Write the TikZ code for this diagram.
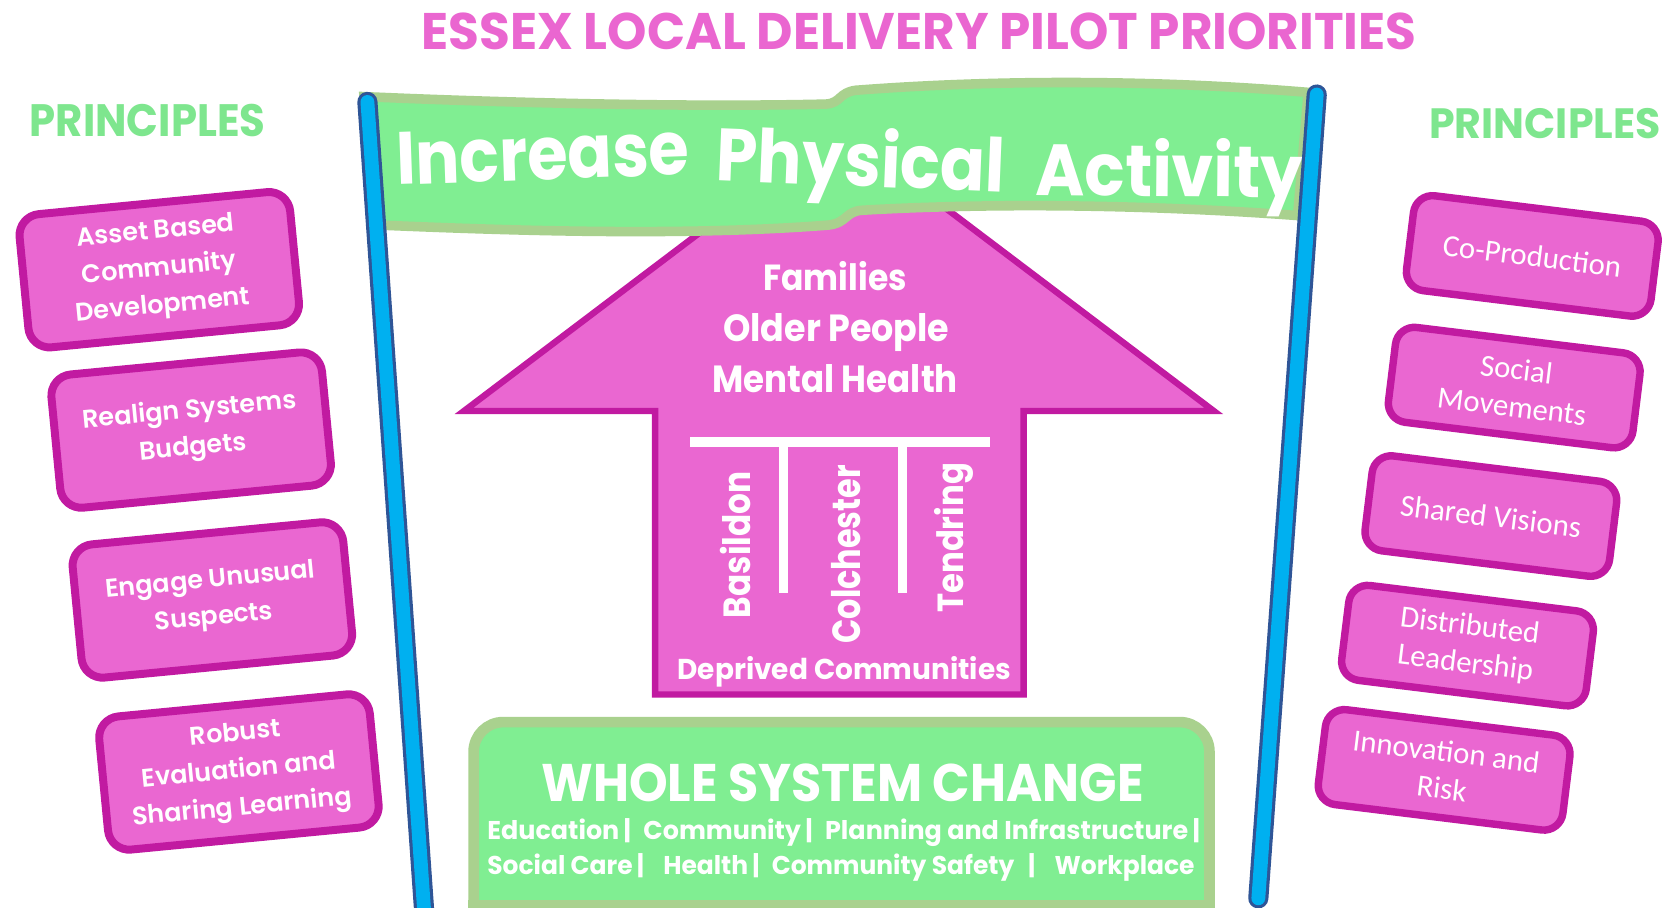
\documentclass[tikz,border=0pt]{standalone}
\usepackage{fontspec}
\setmainfont{Poppins}
\newfontfamily\geo{Poppins}
\newfontfamily\geosb{Poppins SemiBold}
\newfontfamily\calfont{Carlito}
\usepackage{graphicx}
\definecolor{pinkF}{HTML}{EA67D1}
\definecolor{magB}{HTML}{C11AA1}
\definecolor{greenF}{HTML}{80EE92}
\definecolor{sage}{HTML}{A9D18E}
\definecolor{pcyan}{HTML}{00B0F0}
\definecolor{pdark}{HTML}{2F5597}
\definecolor{titlepink}{HTML}{EA66D0}
\definecolor{prgreen}{HTML}{7EE68E}
% fit text to width #1 and cap height #2 (in pt), font #3, text #4
\newcommand\fitc[4]{{#3\setbox0\hbox{H}\setbox2\hbox{#4}%
  \pgfmathsetmacro\fsx{#1/\the\wd2}\pgfmathsetmacro\fsy{#2/\the\ht0}%
  \scalebox{\fsx}[\fsy]{\box2}}}
\newcommand\tw{\geo\bfseries\fontsize{40}{40}\selectfont}
\begin{document}
\begin{tikzpicture}[x=1pt,y=-1pt,
  txt/.style={anchor=base west, inner sep=0pt, outer sep=0pt, text=white},
  lbox/.style={draw=magB, fill=pinkF, line width=7.5pt, rounded corners=20pt,
    minimum width=256pt, minimum height=126pt, align=center, text=white,
    inner sep=0pt, font=\geosb\fontsize{24}{35}\selectfont, rotate=5.5},
  rbox/.style={draw=magB, fill=pinkF, line width=7pt, rounded corners=18pt,
    minimum width=232pt, minimum height=90pt, align=center, text=white,
    inner sep=0pt, font=\calfont\fontsize{29}{35}\selectfont, rotate=-7},
  arrowshape/.style={draw=magB, fill=pinkF, line width=6pt, line join=miter},
  bannershape/.style={draw=sage, fill=greenF, line width=9pt},
  wscshape/.style={draw=sage, fill=greenF, line width=10pt, rounded corners=28pt},
  poleout/.style={draw=pdark, line width=19pt, line cap=round},
  polein/.style={draw=pcyan, line width=13pt, line cap=round},
  tline/.style={draw=white, line width=9pt}]
\clip (0,0) rectangle (1568,855);
\fill[white] (0,0) rectangle (1568,855);

% title and headings
\node[txt, text=titlepink] (title) at (397,46.5) {\fitc{937}{34}{\tw}{ESSEX LOCAL DELIVERY PILOT PRIORITIES}};
\node[txt, text=prgreen] (prinL) at (28,129) {\fitc{222}{30}{\tw}{PRINCIPLES}};
\node[txt, text=prgreen] (prinR) at (1346,130) {\fitc{218}{28}{\tw}{PRINCIPLES}};

% arrow
\draw[arrowshape] (437,387) -- (617,387) -- (617,654) -- (964,654) -- (964,387)
  -- (1143,387) -- (790,120) -- cycle;
\node[txt] (fam) at (719,274) {\fitc{135}{24}{\tw}{Families}};
\node[txt] (old) at (681,322) {\fitc{213}{25}{\tw}{Older People}};
\node[txt] (men) at (671,370) {\fitc{231}{25}{\tw}{Mental Health}};
\draw[tline] (650,416) -- (932,416);
\draw[tline] (738,416) -- (738,558);
\draw[tline] (850,416) -- (850,558);
\node[txt, rotate=90] (bas) at (707,582) {\fitc{138}{25}{\tw}{Basildon}};
\node[txt, rotate=90] (col) at (810,606) {\fitc{168}{26}{\tw}{Colchester}};
\node[txt, rotate=90] (ten) at (907,577) {\fitc{141}{24}{\tw}{Tendring}};
\node[txt] (dep) at (638,640) {\fitc{314}{19}{\tw}{Deprived Communities}};

% banner
\path[bannershape] (343,91) .. controls (480,97) and (650,101) .. (778,98)
  .. controls (792,97) and (790,87) .. (806,85)
  .. controls (950,74) and (1100,76) .. (1232,87)
  -- (1222,203)
  .. controls (1100,194) and (950,190) .. (812,198)
  .. controls (796,199) and (798,210) .. (780,212)
  .. controls (650,222) and (500,218) .. (358,212) -- cycle;
\node[txt, rotate=2] (w1) at (374,174) {\fitc{276}{49}{\tw}{Increase}};
\node[txt, rotate=-2.3] (w2) at (674,170) {\fitc{272}{49}{\tw}{Physical}};
\node[txt, rotate=-0.5] (w3) at (975,184) {\fitc{252}{48}{\tw}{Activity}};

% poles
\draw[poleout] (346,96) -- (401,880);
\draw[polein] (346,96) -- (401,880);
\draw[poleout] (1240,89) -- (1185,846);
\draw[polein] (1240,89) -- (1185,846);

% whole system change
\draw[wscshape] (446,900) rectangle (1139,680);
\draw[draw=sage, line width=8pt] (441,852) -- (1144,852);
\node[txt] (wsc) at (510,755) {\fitc{567}{35}{\tw}{WHOLE SYSTEM CHANGE}};
\node[txt] (l1) at (459,791) {\fitc{671}{17}{\tw}{Education\,|\; Community\,|\; Planning and Infrastructure\,|}};
\node[txt] (l2) at (459,824) {\fitc{666}{17}{\tw}{Social Care\,|\;\; Health\,|\; Community Safety\;\;|\;\; Workplace}};

% left principles
\node[lbox] (a1) at (150,254) {Asset Based\\Community\\Development};
\node[lbox] (a2) at (180,405) {Realign Systems\\Budgets};
\node[lbox] (a3) at (200,565) {Engage Unusual\\Suspects};
\node[lbox] (a4) at (225,727) {Robust\\Evaluation and\\Sharing Learning};

% right principles
\node[rbox] (b1) at (1443,241) {Co-Production};
\node[rbox] (b2) at (1426,365) {Social\\Movements};
\node[rbox] (b3) at (1404,486) {Shared Visions};
\node[rbox] (b4) at (1382,608) {Distributed\\Leadership};
\node[rbox] (b5) at (1360,725) {Innovation and\\Risk};
\end{tikzpicture}
\end{document}
